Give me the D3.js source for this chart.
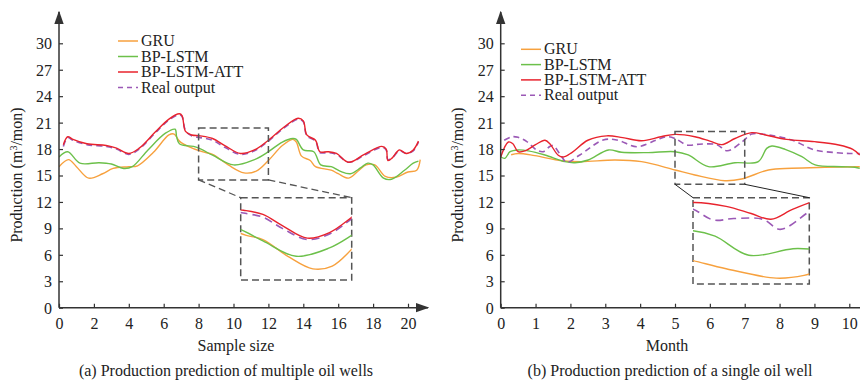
<!DOCTYPE html>
<html>
<head>
<meta charset="utf-8">
<title>Production prediction</title>
<style>
  body { margin: 0; background: #fff; }
  svg text { font-family: "Liberation Serif", "Times New Roman", serif; fill: #222; }
</style>
</head>
<body>
<div id="chart"></div>
<script src="https://d3js.org/d3.v7.min.js"></script>
<script>
// ---- data: (a) multiple oil wells
var aGruX = [0, 0.55, 1.0, 1.7, 2.5, 3.1, 4.0, 4.5, 5.4, 6.3, 6.6, 6.9, 7.4, 8.2, 8.8, 9.7, 10.6, 11.3, 12.0, 12.8, 13.4, 13.6, 13.9, 14.4, 14.7, 15.6, 16.0, 16.6, 17.2, 17.6, 18.1, 18.7, 19.3, 20.0, 20.5, 20.7];
var aGruY = [16.0, 16.8, 16.0, 14.7, 15.2, 15.8, 16.0, 16.1, 17.6, 19.6, 19.7, 18.9, 18.3, 17.7, 17.4, 16.2, 15.3, 15.5, 16.7, 18.4, 19.1, 18.8, 17.2, 16.7, 16.0, 15.6, 15.2, 14.7, 15.6, 16.2, 16.2, 14.9, 14.8, 15.4, 15.6, 16.8];
var aLstmX = [0, 0.5, 1.2, 2.3, 3.0, 3.7, 4.2, 5.1, 6.1, 6.65, 6.74, 6.9, 7.9, 8.8, 10.0, 11.2, 12.0, 12.8, 13.4, 13.6, 14.0, 14.6, 15.0, 15.6, 16.1, 16.7, 17.3, 17.7, 18.0, 18.6, 19.05, 19.8, 20.3, 20.6];
var aLstmY = [17.1, 17.7, 16.4, 16.45, 16.3, 15.8, 16.0, 17.9, 19.8, 20.25, 19.4, 18.6, 18.2, 17.3, 16.2, 16.8, 17.7, 18.8, 19.2, 19.1, 17.9, 17.7, 16.2, 16.0, 15.5, 15.2, 15.9, 16.4, 16.2, 14.7, 14.57, 15.6, 16.4, 16.64];
var aAttX = [0.25, 0.5, 0.8, 1.6, 2.7, 3.3, 4.0, 4.6, 5.5, 6.3, 6.9, 7.05, 7.25, 7.6, 8.1, 8.8, 9.5, 10.4, 11.2, 12.0, 12.9, 13.7, 14.0, 14.2, 14.7, 14.95, 15.4, 15.9, 16.6, 17.5, 18.5, 18.75, 18.85, 19.1, 19.5, 19.9, 20.3, 20.6];
var aAttY = [18.5, 19.4, 19.1, 18.6, 18.4, 18.1, 17.5, 18.1, 19.9, 21.4, 22.0, 21.8, 20.0, 19.6, 19.5, 19.2, 18.4, 17.5, 17.9, 19.0, 20.5, 21.5, 21.2, 19.6, 19.0, 17.7, 17.7, 17.5, 16.5, 17.4, 18.3, 18.0, 16.7, 17.0, 17.9, 17.5, 17.9, 18.9];
var aRealX = aAttX;
var aRealY = [18.3, 19.3, 19.0, 18.5, 18.3, 18.0, 17.4, 18.0, 19.8, 21.3, 21.9, 21.7, 20.1, 19.5, 19.3, 19.0, 18.2, 17.4, 17.8, 18.9, 20.4, 21.4, 21.1, 19.5, 18.9, 17.6, 17.6, 17.4, 16.5, 17.3, 18.2, 17.9, 16.8, 17.0, 17.8, 17.5, 17.8, 18.8];

// ---- data: (b) single oil well
var bGruX = [0.3, 0.5, 0.98, 1.75, 2.32, 3.28, 4.04, 5.0, 5.57, 6.43, 6.91, 7.68, 8.35, 9.3, 10.3];
var bGruY = [17.35, 17.5, 17.25, 16.68, 16.57, 16.76, 16.57, 15.63, 15.06, 14.41, 14.6, 15.63, 15.82, 15.93, 16.0];
var bLstmX = [0, 0.12, 0.27, 0.5, 0.79, 1.27, 1.84, 2.13, 2.51, 3.09, 3.47, 4.23, 5.0, 5.38, 5.96, 6.72, 7.39, 7.63, 7.78, 8.16, 8.64, 9.02, 9.78, 10.16, 10.3];
var bLstmY = [17.13, 16.95, 17.7, 17.9, 17.8, 17.33, 16.57, 16.45, 16.76, 17.9, 17.63, 17.6, 17.7, 17.33, 16.0, 16.45, 16.57, 18.08, 18.35, 17.97, 17.13, 16.2, 16.0, 15.93, 15.8];
var bAttX = [0, 0.22, 0.35, 0.5, 0.7, 1.0, 1.27, 1.41, 1.65, 1.8, 2.04, 2.5, 3.04, 3.5, 4.04, 4.6, 5.0, 5.57, 6.0, 6.34, 6.72, 7.2, 7.6, 8.2, 9.0, 9.7, 10.1, 10.3];
var bAttY = [17.1, 18.8, 18.6, 17.7, 17.8, 18.5, 19.0, 18.6, 17.3, 17.1, 17.6, 19.0, 19.5, 19.3, 18.95, 19.4, 19.67, 19.4, 18.9, 18.5, 19.2, 19.86, 19.6, 19.1, 18.84, 18.46, 17.97, 17.33];
var bRealX = [0.1, 0.32, 0.5, 0.75, 1.03, 1.22, 1.4, 1.5, 1.75, 1.89, 2.27, 2.94, 3.33, 3.9, 4.47, 4.76, 5.0, 5.35, 5.7, 6.2, 6.5, 6.95, 7.2, 7.67, 8.35, 9.0, 9.6, 10.0, 10.3];
var bRealY = [19.0, 19.4, 19.33, 18.84, 17.9, 17.7, 18.27, 18.4, 17.13, 16.5, 17.33, 19.03, 19.03, 18.27, 19.03, 19.4, 19.2, 18.45, 18.55, 18.5, 17.8, 18.9, 19.7, 19.6, 19.03, 17.9, 17.6, 17.5, 17.5];

var yTicks = [0, 3, 6, 9, 12, 15, 18, 21, 24, 27, 30];
var aXTicks = [0, 2, 4, 6, 8, 10, 12, 14, 16, 18, 20];
var bXTicks = [0, 1, 2, 3, 4, 5, 6, 7, 8, 9, 10];
var seriesNames = ["GRU", "BP-LSTM", "BP-LSTM-ATT", "Real output"];

var COLORS = ["#f7a13e", "#6cc04a", "#e8232d", "#9b59b6"];
var AXIS_COLOR = "#333";
var BOX_COLOR = "#555";
var FONT_SIZE = "16px";

var W = 860, H = 381;
var svg = d3.select("#chart").append("svg").attr("width", W).attr("height", H);

var defs = svg.append("defs");
defs.append("marker").attr("id", "arrow")
  .attr("viewBox", "0 0 10 10").attr("refX", 9).attr("refY", 5)
  .attr("markerWidth", 9).attr("markerHeight", 9).attr("orient", "auto")
  .append("path").attr("d", "M0,1.5 L10,5 L0,8.5 Z").attr("fill", AXIS_COLOR);

function zip(xs, ys) {
  return xs.map(function (v, i) { return [v, ys[i]]; });
}

function drawPanel(cfg) {
  var g = svg.append("g");
  var x = d3.scaleLinear().domain(cfg.xDomain).range(cfg.xRange);
  var y = d3.scaleLinear().domain([0, 30]).range([307.7, 43.3]);
  var y0 = y(0), x0 = x(0);

  var series = [
    zip(cfg.gruX, cfg.gruY), zip(cfg.lstmX, cfg.lstmY),
    zip(cfg.attX, cfg.attY), zip(cfg.realX, cfg.realY)
  ];

  var clipId = "clip" + cfg.id;
  defs.append("clipPath").attr("id", clipId).append("rect")
    .attr("x", x0).attr("y", 0).attr("width", cfg.clipRight - x0).attr("height", y0);

  function lineFor(sx, sy) {
    return d3.line().x(function (d) { return sx(d[0]); }).y(function (d) { return sy(d[1]); })
      .curve(d3.curveCatmullRom.alpha(0.5));
  }

  var lines = g.append("g").attr("clip-path", "url(#" + clipId + ")");
  [0, 1, 3, 2].forEach(function (k) {
    lines.append("path").datum(series[k])
      .attr("d", lineFor(x, y))
      .attr("fill", "none").attr("stroke", COLORS[k])
      .attr("stroke-width", k === 3 ? 1.6 : 1.4)
      .attr("stroke-dasharray", k === 3 ? "6,4" : null);
  });

  // axes
  var yAxis = d3.axisLeft(y).tickValues(yTicks).tickSizeInner(-4).tickSizeOuter(0).tickPadding(7);
  var gy = g.append("g").attr("transform", "translate(" + x0 + ",0)").call(yAxis);
  var xAxis = d3.axisBottom(x).tickValues(cfg.xTicks).tickSizeInner(-4).tickSizeOuter(0).tickPadding(10);
  var gx = g.append("g").attr("transform", "translate(0," + y0 + ")").call(xAxis);
  [gx, gy].forEach(function (a) {
    a.select(".domain").remove();
    a.selectAll(".tick line").attr("stroke", AXIS_COLOR).attr("stroke-width", 1.2);
    a.selectAll(".tick text").style("font-family", "Liberation Serif, serif")
      .style("font-size", FONT_SIZE).attr("fill", "#222");
  });
  gy.selectAll(".tick text").attr("dy", "0.34em");
  gx.selectAll(".tick text").attr("dy", "0.72em");

  g.append("line").attr("x1", x0).attr("y1", y0).attr("x2", x0).attr("y2", 12)
    .attr("stroke", AXIS_COLOR).attr("stroke-width", 1.5).attr("marker-end", "url(#arrow)");
  g.append("line").attr("x1", x0).attr("y1", y0).attr("x2", cfg.arrowRight).attr("y2", y0)
    .attr("stroke", AXIS_COLOR).attr("stroke-width", 1.5).attr("marker-end", "url(#arrow)");

  // zoom boxes
  var zb = cfg.zoom;
  var sBox = { x1: x(zb.xd[0]), x2: x(zb.xd[1]), y1: y(zb.yd[1]), y2: y(zb.yd[0]) };
  var bBox = zb.box;
  g.append("rect").attr("x", sBox.x1).attr("y", sBox.y1)
    .attr("width", sBox.x2 - sBox.x1).attr("height", sBox.y2 - sBox.y1)
    .attr("fill", "none").attr("stroke", BOX_COLOR).attr("stroke-width", 1.5).attr("stroke-dasharray", "7,4");
  g.append("rect").attr("x", bBox.x1).attr("y", bBox.y1)
    .attr("width", bBox.x2 - bBox.x1).attr("height", bBox.y2 - bBox.y1)
    .attr("fill", "none").attr("stroke", BOX_COLOR).attr("stroke-width", 1.5).attr("stroke-dasharray", "7,4");
  [[sBox.x1, bBox.x1], [sBox.x2, bBox.x2]].forEach(function (p) {
    g.append("line").attr("x1", p[0]).attr("y1", sBox.y2).attr("x2", p[1]).attr("y2", bBox.y1)
      .attr("stroke", zb.connDash ? BOX_COLOR : "#222")
      .attr("stroke-width", zb.connDash ? 1.3 : 1)
      .attr("stroke-dasharray", zb.connDash ? "7,4" : null);
  });

  var zx = d3.scaleLinear().domain(zb.xd).range([bBox.x1, bBox.x2]);
  var zy = d3.scaleLinear().domain(zb.yd).range([bBox.y2, bBox.y1]);
  var zClip = "zclip" + cfg.id;
  defs.append("clipPath").attr("id", zClip).append("rect")
    .attr("x", bBox.x1).attr("y", bBox.y1).attr("width", bBox.x2 - bBox.x1).attr("height", bBox.y2 - bBox.y1);
  var zl = g.append("g").attr("clip-path", "url(#" + zClip + ")");
  [0, 1, 3, 2].forEach(function (k) {
    zl.append("path").datum(series[k])
      .attr("d", lineFor(zx, zy))
      .attr("fill", "none").attr("stroke", COLORS[k])
      .attr("stroke-width", k === 3 ? 1.6 : 1.4)
      .attr("stroke-dasharray", k === 3 ? "8,5" : null);
  });

  // legend
  var lg = g.append("g");
  seriesNames.forEach(function (name, i) {
    var cy = cfg.legend.y + i * cfg.legend.step;
    lg.append("line").attr("x1", cfg.legend.x).attr("x2", cfg.legend.x + 20)
      .attr("y1", cy).attr("y2", cy)
      .attr("stroke", COLORS[i]).attr("stroke-width", 1.5)
      .attr("stroke-dasharray", i === 3 ? "5,4" : null);
    lg.append("text").attr("x", cfg.legend.x + 23).attr("y", cy + 5)
      .style("font-size", FONT_SIZE).text(name);
  });

  // axis titles
  var yl = g.append("text")
    .attr("transform", "translate(" + cfg.yLabelX + ",175) rotate(-90)")
    .attr("text-anchor", "middle").style("font-size", FONT_SIZE);
  yl.append("tspan").text("Production (m");
  yl.append("tspan").attr("dy", "-5").style("font-size", "10px").text("3");
  yl.append("tspan").attr("dy", "5").text("/mon)");

  g.append("text").attr("x", cfg.xLabelX).attr("y", 351).attr("text-anchor", "middle")
    .style("font-size", FONT_SIZE).text(cfg.xLabel);
  g.append("text").attr("x", cfg.captionX).attr("y", 376).attr("text-anchor", "middle")
    .style("font-size", FONT_SIZE).text(cfg.caption);
}

drawPanel({
  id: "a",
  xDomain: [0, 20], xRange: [59, 408], xTicks: aXTicks, clipRight: 430, arrowRight: 428,
  gruX: aGruX, gruY: aGruY, lstmX: aLstmX, lstmY: aLstmY,
  attX: aAttX, attY: aAttY, realX: aRealX, realY: aRealY,
  zoom: { xd: [8, 12], yd: [14.5, 20.4], box: { x1: 240.7, x2: 351.7, y1: 197.7, y2: 280 }, connDash: true },
  legend: { x: 118, y: 41, step: 15.5 },
  yLabelX: 22, xLabelX: 236, xLabel: "Sample size",
  captionX: 226, caption: "(a) Production prediction of multiple oil wells"
});

drawPanel({
  id: "b",
  xDomain: [0, 10], xRange: [500.7, 849.3], xTicks: bXTicks, clipRight: 860, arrowRight: 872,
  gruX: bGruX, gruY: bGruY, lstmX: bLstmX, lstmY: bLstmY,
  attX: bAttX, attY: bAttY, realX: bRealX, realY: bRealY,
  zoom: { xd: [5, 7], yd: [14, 20], box: { x1: 693, x2: 809.3, y1: 197.7, y2: 284 }, connDash: false },
  legend: { x: 521, y: 49.3, step: 15.3 },
  yLabelX: 463, xLabelX: 667, xLabel: "Month",
  captionX: 670, caption: "(b) Production prediction of a single oil well"
});
</script>
</body>
</html>
